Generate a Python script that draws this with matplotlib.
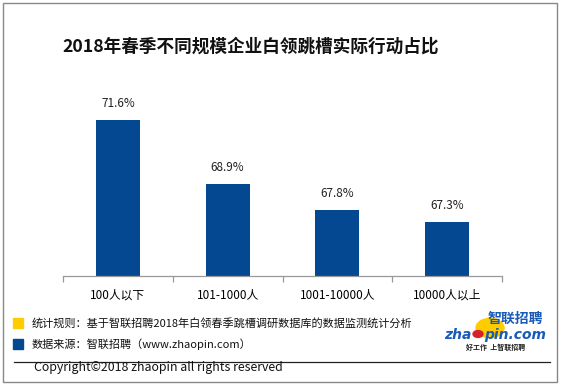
import matplotlib.pyplot as plt
from matplotlib.patches import Rectangle, Circle
from matplotlib.lines import Line2D

plt.rcParams['font.family'] = ['Noto Sans CJK SC', 'DejaVu Sans']

categories = ['100人以下', '101-1000人', '1001-10000人', '10000人以上']
values = [71.6, 68.9, 67.8, 67.3]
title = '2018年春季不同规模企业白领跳槽实际行动占比'
note_rule = '统计规则：基于智联招聘2018年白领春季跳槽调研数据库的数据监测统计分析'
note_src = '数据来源：智联招聘（www.zhaopin.com）'
copyright_txt = 'Copyright©2018 zhaopin all rights reserved'

W, H = 563, 387
fig = plt.figure(figsize=(W / 100, H / 100), dpi=100)

# fig coords helper: pixel -> fraction
def fx(x):
    return x / W

def fy(y):
    return 1 - y / H

ax = fig.add_axes([fx(63), fy(276), fx(502) - fx(63), fy(70) - fy(276)])
bar_color = '#044891'
x = range(len(categories))
ax.bar(x, values, width=0.4, color=bar_color, bottom=0)
ax.set_ylim(65, 73.7)
ax.set_xlim(-0.5, len(categories) - 0.5)
for xi, v in zip(x, values):
    ax.annotate(f'{v}%', (xi, v), xytext=(0, 7), textcoords='offset points',
                ha='center', va='bottom', fontsize=8.5, color='#222222')
for s in ['top', 'right', 'left']:
    ax.spines[s].set_visible(False)
ax.spines['bottom'].set_color('#999999')
ax.spines['bottom'].set_linewidth(0.9)
ax.set_yticks([])
ax.set_xticks(list(x))
ax.set_xticklabels(categories, fontsize=8.5)
ax.tick_params(axis='x', which='major', length=0, pad=9)
ax.set_xticks([i - 0.5 for i in range(len(categories) + 1)], minor=True)
ax.tick_params(axis='x', which='minor', length=4, color='#999999', width=0.9)

fig.text(fx(251), fy(47), title, ha='center', va='center', fontsize=12.7,
         fontweight='bold', color='#111111')

# legend notes
fig.patches.append(Rectangle((fx(13), fy(328)), fx(10), fy(318) - fy(328),
                             transform=fig.transFigure, color='#FFCC00'))
fig.patches.append(Rectangle((fx(13), fy(349)), fx(10), fy(339) - fy(349),
                             transform=fig.transFigure, color=bar_color))
fig.text(fx(32), fy(323), note_rule, ha='left', va='center', fontsize=8, color='#111111')
fig.text(fx(32), fy(344), note_src, ha='left', va='center', fontsize=8, color='#111111')
fig.lines.append(Line2D([fx(14), fx(550)], [fy(362), fy(362)],
                        transform=fig.transFigure, color='#222222', lw=0.9))
fig.text(fx(34), fy(368), copyright_txt, ha='left', va='center', fontsize=8.9, color='#111111')

# logo
logo_blue = '#1A5BB8'
fig.patches.append(Circle((fx(490), fy(328)), 14 / W, transform=fig.transFigure,
                          color='#FFCC00', zorder=1))
fig.text(fx(515), fy(319), '智联招聘', ha='center', va='center', fontsize=10,
         fontweight='bold', style='italic', color=logo_blue, zorder=3)
fig.text(fx(472), fy(335), 'zha', ha='right', va='center', fontsize=10,
         fontweight='bold', style='italic', color=logo_blue, zorder=3,
         family='DejaVu Sans')
fig.text(fx(484), fy(335), 'pin.com', ha='left', va='center', fontsize=10,
         fontweight='bold', style='italic', color=logo_blue, zorder=3,
         family='DejaVu Sans')
fig.patches.append(Circle((fx(478), fy(334)), 5 / W, transform=fig.transFigure,
                          color='#D8202A', zorder=4))
fig.text(fx(496), fy(347), '好工作  上智联招聘', ha='center', va='center', fontsize=5,
         fontweight='bold', style='italic', color='#222222', zorder=3)

# outer border
fig.patches.append(Rectangle((fx(3), fy(382)), fx(554), fy(3) - fy(382),
                             transform=fig.transFigure, fill=False,
                             edgecolor='#888888', lw=1))

fig.savefig('out.png', dpi=100)
